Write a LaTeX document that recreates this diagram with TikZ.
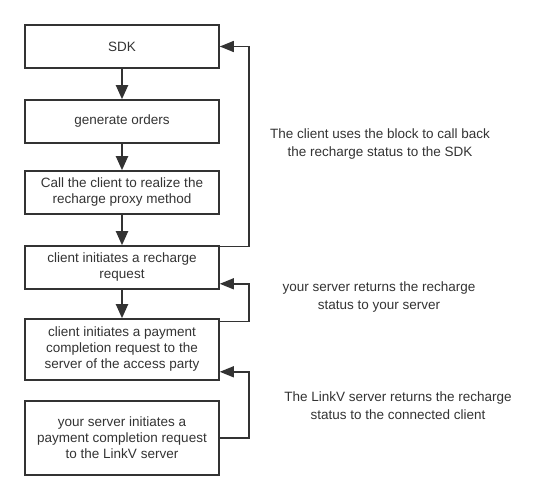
\documentclass[tikz,border=0pt]{standalone}
\usepackage{fontspec}
\setmainfont{Liberation Sans}
\usetikzlibrary{arrows.meta,calc}
\definecolor{ink}{HTML}{333333}
\begin{document}
\begin{tikzpicture}[x=1pt,y=-1pt,
  box/.style={draw=ink,line width=1.6pt,minimum width=194pt,inner sep=0pt,align=center,text=ink,font=\fontsize{13.5}{16}\selectfont},
  flow/.style={draw=ink,line width=2pt,-{Triangle[length=14pt,width=12pt]}},
  back/.style={draw=ink,line width=1.4pt,-{Triangle[length=14pt,width=11pt]}},
  lbl/.style={align=center,text=ink,font=\fontsize{13.5}{18}\selectfont}]
\useasboundingbox (0,0) rectangle (554,500);
\node[box,minimum height=43pt] (b1) at (122,46.5) {SDK};
\node[box,minimum height=43pt] (b2) at (122,121.5) {generate orders};
\node[box,minimum height=43pt] (b3) at (122,192.5) {Call the client to realize the\\recharge proxy method};
\node[box,minimum height=43pt] (b4) at (122,267.5) {client initiates a recharge\\request};
\node[box,minimum height=61pt] (b5) at (122,349.5) {client initiates a payment\\completion request to the\\server of the access party};
\node[box,minimum height=74pt] (b6) at (122,438) {your server initiates a\\payment completion request\\to the LinkV server};
\draw[flow] (b1.south) -- (b2.north);
\draw[flow] (b2.south) -- (b3.north);
\draw[flow] (b3.south) -- (b4.north);
\draw[flow] (b4.south) -- (b5.north);
\draw[back] ([yshift=-1pt]b4.north east) -| ([xshift=29pt]b1.east) -- (b1.east);
\draw[back] ([yshift=-3pt]b5.north east) -| ([xshift=29pt,yshift=6pt]b4.south east) -- ([yshift=6pt]b4.south east);
\draw[back] (b6.east) -| ([xshift=29pt,yshift=9pt]b5.south east) -- ([yshift=9pt]b5.south east);
\node[lbl] (l1) at (380,144) {The client uses the block to call back\\the recharge status to the SDK};
\node[lbl] (l2) at (379,297) {your server returns the recharge\\status to your server};
\node[lbl] (l3) at (398,406) {The LinkV server returns the recharge\\status to the connected client};
\end{tikzpicture}
\end{document}
